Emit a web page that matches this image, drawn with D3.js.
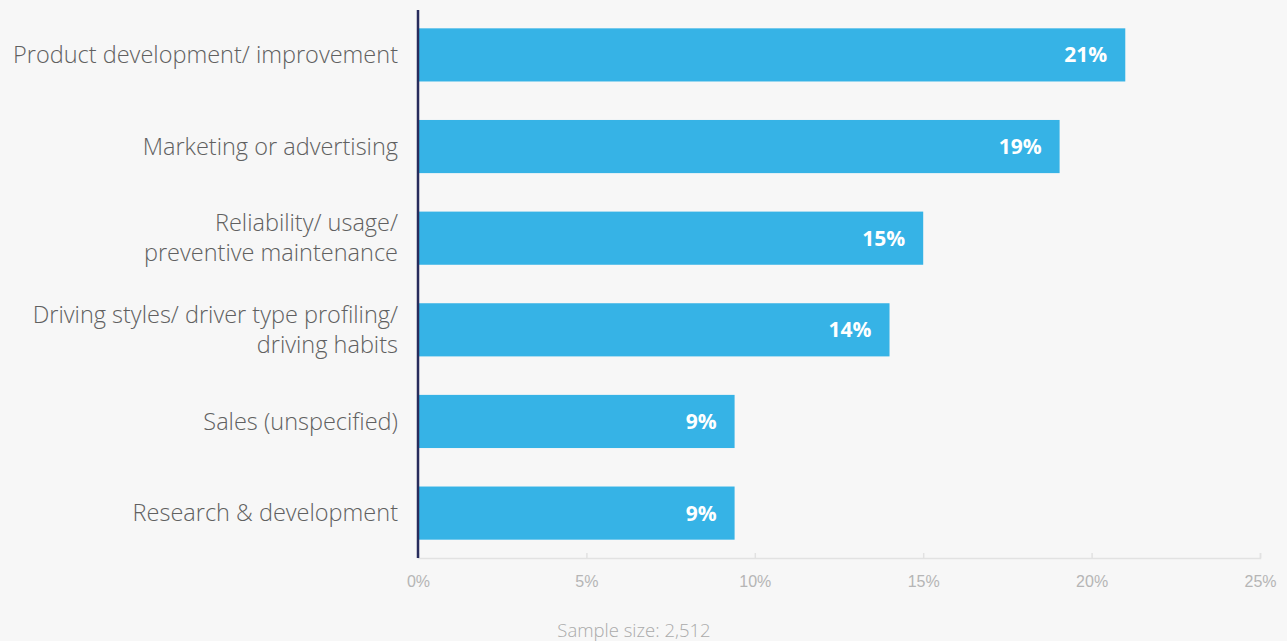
<!DOCTYPE html>
<html>
<head>
<meta charset="utf-8">
<script src="https://cdn.jsdelivr.net/npm/d3@7"></script>
<style>
  html, body { margin: 0; padding: 0; background: #f7f7f7; }
  svg { display: block; font-family: "Open Sans", "Noto Sans", sans-serif; }
</style>
</head>
<body>
<script>
// chart data
const categories = [
  ["Product development/ improvement"],
  ["Marketing or advertising"],
  ["Reliability/ usage/", "preventive maintenance"],
  ["Driving styles/ driver type profiling/", "driving habits"],
  ["Sales (unspecified)"],
  ["Research & development"]
];
const shares = [21.0, 19.05, 15.0, 14.0, 9.4, 9.4];
const shareLabels = ["21%", "19%", "15%", "14%", "9%", "9%"];
const tickValues = [0, 5, 10, 15, 20, 25];
const footnote = "Sample size: 2,512";

const width = 1287, height = 641;
const margin = { top: 10, right: 27, bottom: 83, left: 418 };

const svg = d3.select("body").append("svg")
  .attr("width", width)
  .attr("height", height);

svg.append("rect").attr("width", width).attr("height", height).attr("fill", "#f7f7f7");

const x = d3.scaleLinear()
  .domain([0, 25])
  .range([margin.left, width - margin.right]);

const y = d3.scaleBand()
  .domain(d3.range(categories.length))
  .range([margin.top, height - margin.bottom])
  .paddingInner(0.42)
  .paddingOuter(0.2);

// bottom axis, light with ticks pointing up
const xAxis = d3.axisBottom(x)
  .tickValues(tickValues)
  .tickFormat(d => d + "%")
  .tickSize(-5)
  .tickPadding(18);

const gx = svg.append("g")
  .attr("transform", `translate(0, ${height - margin.bottom})`)
  .call(xAxis);
gx.select(".domain").attr("stroke", "#e2e2e2").attr("stroke-width", 1.5);
gx.selectAll(".tick line").attr("stroke", "#e2e2e2").attr("stroke-width", 1.5);
gx.selectAll(".tick text")
  .attr("fill", "#b5b5b5")
  .attr("font-size", 16)
  .attr("font-weight", 300)
  .attr("dy", "0.71em");

// bars
svg.selectAll(".bar")
  .data(shares)
  .enter()
  .append("rect")
    .attr("class", "bar")
    .attr("x", x(0))
    .attr("y", (d, i) => y(i))
    .attr("width", d => x(d) - x(0))
    .attr("height", y.bandwidth())
    .attr("fill", "#36b3e6");

// value labels inside bars
svg.selectAll(".val")
  .data(shares)
  .enter()
  .append("text")
    .attr("class", "val")
    .attr("x", d => x(d) - 18)
    .attr("y", (d, i) => y(i) + y.bandwidth() / 2)
    .attr("dy", "0.36em")
    .attr("text-anchor", "end")
    .attr("fill", "#ffffff")
    .attr("font-size", 21)
    .attr("font-weight", 700)
    .text((d, i) => shareLabels[i]);

// category labels
const lineH = 30;
const labels = svg.selectAll(".cat")
  .data(categories)
  .enter()
  .append("text")
    .attr("class", "cat")
    .attr("text-anchor", "end")
    .attr("fill", "#606060")
    .attr("font-size", 23.5)
    .attr("font-weight", 300);

labels.each(function(lines, i) {
  const cy = y(i) + y.bandwidth() / 2;
  const start = cy - (lines.length - 1) * lineH / 2;
  d3.select(this).selectAll("tspan")
    .data(lines)
    .enter()
    .append("tspan")
      .attr("x", margin.left - 20)
      .attr("y", (d, k) => start + k * lineH)
      .attr("dy", "0.35em")
      .text(d => d);
});

// vertical axis line
svg.append("line")
  .attr("x1", x(0)).attr("x2", x(0))
  .attr("y1", margin.top).attr("y2", height - margin.bottom)
  .attr("stroke", "#282c5c")
  .attr("stroke-width", 2.5);

// footnote
svg.append("text")
  .attr("x", 634)
  .attr("y", 637)
  .attr("text-anchor", "middle")
  .attr("fill", "#aaaaaa")
  .attr("font-size", 18.5)
  .attr("font-weight", 300)
  .text(footnote);
</script>
</body>
</html>
